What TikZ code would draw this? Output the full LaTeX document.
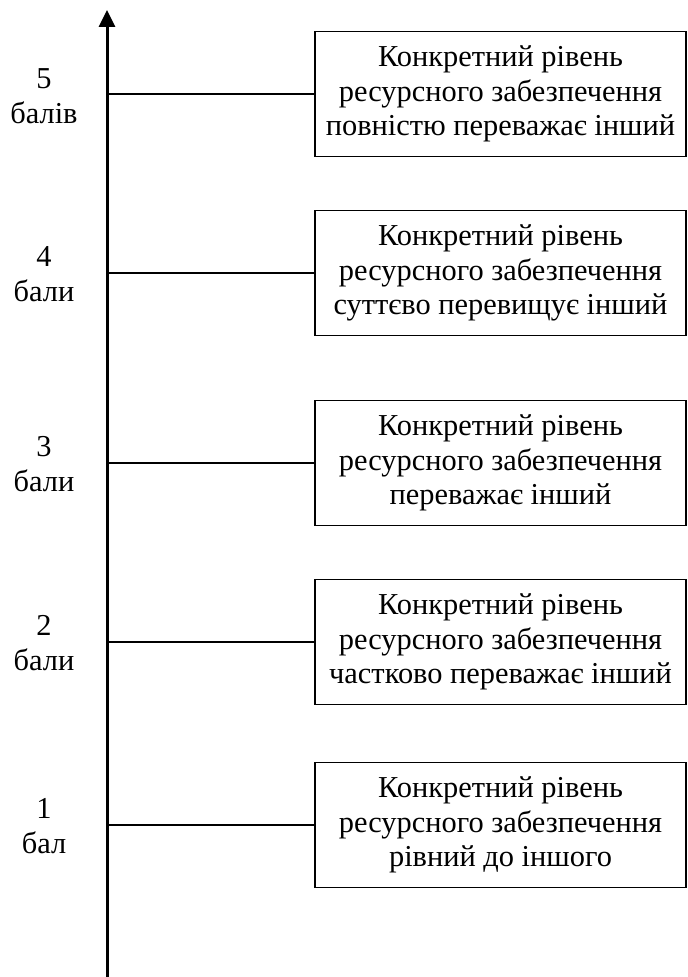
\documentclass[tikz,border=0pt]{standalone}
\usepackage{fontspec}
\setmainfont{Liberation Serif}
\usetikzlibrary{arrows.meta}
\begin{document}
\begin{tikzpicture}[x=0.5pt,y=-0.5pt,
  levelbox/.style={draw, line width=0.75pt, minimum width=185.5pt,
    minimum height=62.5pt, align=center, inner sep=0pt,
    font=\fontsize{15.2}{17.3}\selectfont},
  score/.style={align=center, inner sep=0pt,
    font=\fontsize{15.2}{17.3}\selectfont},
  tick/.style={line width=1pt},
  axis/.style={line width=1.5pt, -{Triangle[length=8.5pt,width=8pt]}}]
\useasboundingbox (0,0) rectangle (687,977);

% vertical scale
\coordinate (base) at (107,977);
\coordinate (top) at (107,10);
\draw[axis] (base) -- (top);

% level descriptions
\node[levelbox] (b5) at (500.5,94)  {Конкретний рівень\\ресурсного забезпечення\\повністю переважає інший};
\node[levelbox] (b4) at (500.5,273) {Конкретний рівень\\ресурсного забезпечення\\суттєво перевищує інший};
\node[levelbox] (b3) at (500.5,463) {Конкретний рівень\\ресурсного забезпечення\\переважає інший};
\node[levelbox] (b2) at (500.5,642) {Конкретний рівень\\ресурсного забезпечення\\частково переважає інший};
\node[levelbox] (b1) at (500.5,825) {Конкретний рівень\\ресурсного забезпечення\\рівний до іншого};

% scores
\node[score] (s5) at (44,96)  {5\\балів};
\node[score] (s4) at (44,274) {4\\бали};
\node[score] (s3) at (44,464) {3\\бали};
\node[score] (s2) at (44,643) {2\\бали};
\node[score] (s1) at (44,826) {1\\бал};

% ticks from the scale to each description
\foreach \b in {b1,b2,b3,b4,b5}
  \draw[tick] (\b.west -| top) -- (\b.west);
\end{tikzpicture}
\end{document}
